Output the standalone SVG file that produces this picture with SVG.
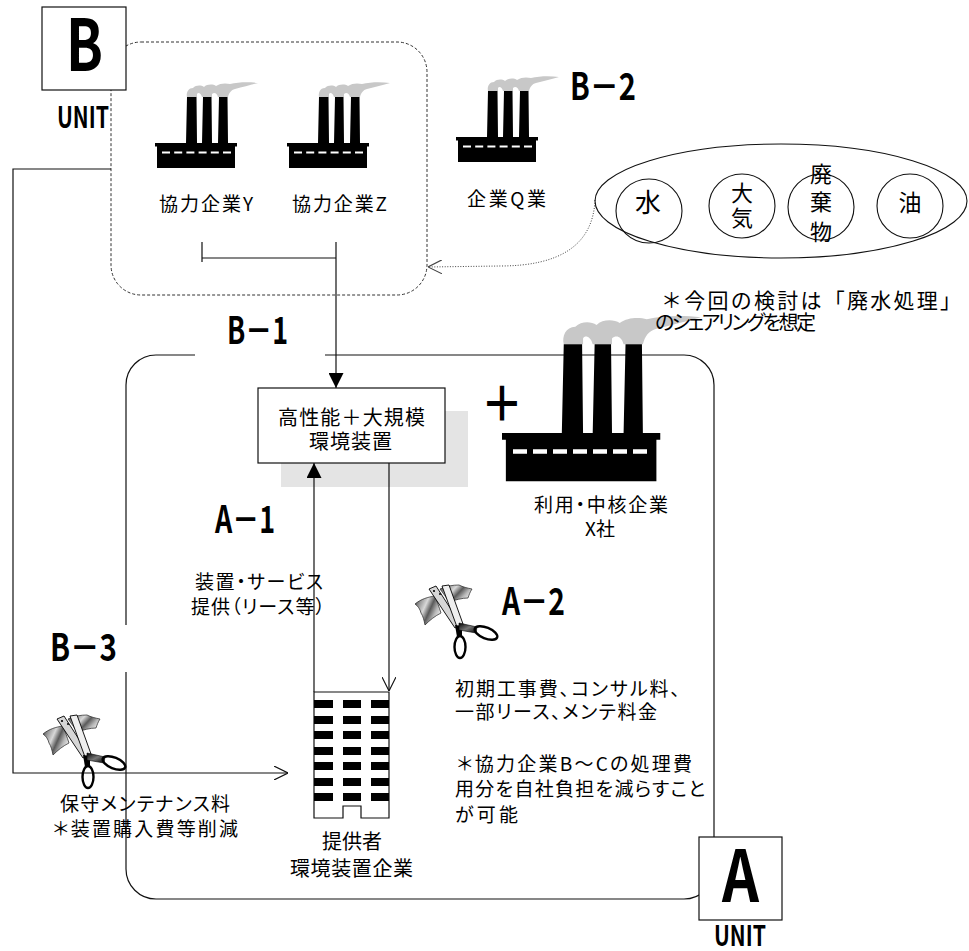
<svg xmlns="http://www.w3.org/2000/svg" width="969" height="951" viewBox="0 0 969 951">
  <style>
    .t { font-family: "Noto Sans CJK JP", "Noto Sans CJK SC", sans-serif; font-size: 19px; fill: #000; font-feature-settings: "palt"; }
    .big { font-family: "Noto Sans CJK JP", "Noto Sans CJK SC", sans-serif; font-size: 22px; fill: #000; text-anchor: middle; }
    .lbl { font-family: "Noto Sans CJK JP", "Liberation Sans", sans-serif; font-weight: 700; font-size: 38px; fill: #000; }
    .ln { fill: none; stroke: #111; stroke-width: 1.2; }
    .dot { fill: none; stroke: #444; stroke-width: 1; stroke-dasharray: 1 1.6; }
    .frame { fill: none; stroke: #111; stroke-width: 1.2; }
    .ring { fill: none; stroke: #111; stroke-width: 1.1; }
  </style>
  <defs>
    <marker id="tri" viewBox="0 0 10 10" refX="10" refY="5" markerUnits="userSpaceOnUse" markerWidth="15" markerHeight="15" orient="auto">
      <path d="M0,0 L10,5 L0,10 Z" fill="#000"/>
    </marker>
    <marker id="vee" viewBox="0 0 10 10" refX="10" refY="5" markerUnits="userSpaceOnUse" markerWidth="14" markerHeight="14" orient="auto">
      <path d="M0,0 L10,5 L0,10" fill="none" stroke="#111" stroke-width="0.8"/>
    </marker>
    <marker id="veeDot" viewBox="0 0 10 10" refX="10" refY="5" markerUnits="userSpaceOnUse" markerWidth="14" markerHeight="14" orient="auto">
      <path d="M0,0 L10,5 L0,10" fill="none" stroke="#444" stroke-width="0.8"/>
    </marker>
    <linearGradient id="note" x1="0" y1="0" x2="1" y2="0.5">
      <stop offset="0" stop-color="#2e2e2e"/>
      <stop offset="0.25" stop-color="#9a9a9a"/>
      <stop offset="0.45" stop-color="#d8d8d8"/>
      <stop offset="0.65" stop-color="#5a5a5a"/>
      <stop offset="0.85" stop-color="#b8b8b8"/>
      <stop offset="1" stop-color="#e0e0e0"/>
    </linearGradient>
    <linearGradient id="shaft" x1="0" y1="0" x2="1" y2="1">
      <stop offset="0" stop-color="#000"/>
      <stop offset="0.5" stop-color="#777"/>
      <stop offset="1" stop-color="#000"/>
    </linearGradient>
    <!-- factory with three stacks, roof-left corner at the origin -->
    <g id="factory">
      <path d="M32,-46 C31,-50 33,-55 38,-55 C41,-58 46,-58 49,-56 C52,-59 58,-59 61,-57 C65,-60 71,-60 75,-59 C84,-61 94,-61 103,-60 C96,-58 88,-56 80,-54 C76,-53 74,-50 73,-46 L63,-46 C62,-50 59,-51 57,-49 L57,-46 L47,-46 C46,-50 43,-51 42,-49 L42,-46 Z" fill="#c8c8c8"/>
      <path d="M31,0 L32,-46 L41.5,-46 L42,0 Z M47,0 L48,-46 L56.5,-46 L57,0 Z M63,0 L64,-46 L72.5,-46 L73,0 Z" fill="#000"/>
      <rect x="0" y="0" width="82" height="3.5" fill="#000"/>
      <rect x="2" y="3" width="78" height="22" fill="#000"/>
    </g>
    <!-- scissors cutting a banknote -->
    <g id="scissors">
      <path d="M0,19 C6,14 13,12 20,11 C22,16 24,22 26,28 C20,31 15,35 10,40 C9,35 8,31 6,28 C5,24 3,21 0,19 Z" fill="url(#note)" stroke="#222" stroke-width="0.7"/>
      <path d="M25,4 C31,1 38,0 44,0 C48,2 52,3 57,4 C55,7 54,10 53,13 C47,13 40,15 34,17 C31,12 28,8 25,4 Z" fill="url(#note)" stroke="#222" stroke-width="0.7"/>
      <path d="M14,4 L21,1 L46,40 L40,43 Z" fill="#d6d6d6" stroke="#000" stroke-width="0.9"/>
      <path d="M27,1 L34,0 L48,39 L42,42 Z" fill="#efefef" stroke="#000" stroke-width="0.9"/>
      <circle cx="19" cy="6" r="1.1" fill="#000"/>
      <circle cx="25" cy="9" r="1" fill="#000"/>
      <path d="M40,40 L47,41 L47,52 L42,52 Z" fill="#000"/>
      <path d="M44,38 L62,42 L61,48 L44,45 Z" fill="url(#shaft)" stroke="#000" stroke-width="0.6"/>
      <ellipse cx="45" cy="62" rx="5.5" ry="11" fill="none" stroke="#000" stroke-width="2.4"/>
      <ellipse cx="71" cy="48" rx="12" ry="5.5" transform="rotate(22 71 48)" fill="none" stroke="#000" stroke-width="2.4"/>
    </g>
  </defs>

  <rect width="969" height="951" fill="#fff"/>

  <!-- UNIT A region -->
  <g id="unit-a-region">
    <rect class="frame" x="126" y="355" width="588" height="544" rx="30" ry="30"/>
  </g>

  <!-- UNIT B region (dashed) -->
  <g id="unit-b-region">
    <rect x="111" y="42" width="316" height="253" rx="30" ry="30" fill="none" stroke="#333" stroke-width="1" stroke-dasharray="3 2"/>
  </g>

  <!-- section labels -->
  <g id="label-b1">
    <rect x="195" y="308" width="130" height="54" fill="#fff"/>
    <text class="lbl" x="227" y="344" textLength="61" lengthAdjust="spacingAndGlyphs">B－1</text>
  </g>
  <g id="label-b2">
    <text class="lbl" x="570" y="100" textLength="66" lengthAdjust="spacingAndGlyphs">B－2</text>
  </g>
  <g id="label-b3">
    <rect x="40" y="625" width="90" height="47" fill="#fff"/>
    <text class="lbl" x="50" y="661" textLength="67" lengthAdjust="spacingAndGlyphs">B－3</text>
  </g>
  <g id="label-a1">
    <text class="lbl" x="215" y="533" textLength="60" lengthAdjust="spacingAndGlyphs">A－1</text>
  </g>
  <g id="label-a2">
    <text class="lbl" x="502" y="615" textLength="63" lengthAdjust="spacingAndGlyphs">A－2</text>
  </g>

  <!-- shadow behind the equipment box -->
  <rect x="281" y="411" width="187" height="76" fill="#e4e4e4"/>

  <!-- connectors -->
  <g id="connectors">
    <path class="ln" d="M202,242 V262 M202,258 H336"/>
    <path class="ln" d="M336,242 V388" marker-end="url(#tri)"/>
    <path class="ln" d="M314,692 V463" marker-end="url(#tri)"/>
    <path class="ln" d="M389,463 V691" marker-end="url(#vee)"/>
    <path class="ln" d="M111,169 H13 V773 H288" marker-end="url(#vee)"/>
    <path class="dot" d="M595,200 C593,245 560,266 500,266 L428,267" marker-end="url(#veeDot)"/>
  </g>

  <!-- equipment box -->
  <g id="equipment">
    <rect x="258" y="388" width="187" height="75" fill="#fff" stroke="#111" stroke-width="1.2"/>
    <text class="t" x="278" y="425" style="font-size:20px" textLength="147" lengthAdjust="spacing">高性能＋大規模</text>
    <text class="t" x="309" y="449" style="font-size:20px" textLength="83" lengthAdjust="spacing">環境装置</text>
  </g>

  <!-- partner factories -->
  <g id="factory-y">
    <use href="#factory" transform="translate(155,143)"/>
    <line x1="162" y1="152.5" x2="231" y2="152.5" stroke="#fff" stroke-width="2" stroke-dasharray="8 4.2"/>
    <text class="t" x="159" y="211" textLength="94" lengthAdjust="spacing">協力企業Y</text>
  </g>
  <g id="factory-z">
    <use href="#factory" transform="translate(287,143)"/>
    <line x1="294" y1="152.5" x2="363" y2="152.5" stroke="#fff" stroke-width="2" stroke-dasharray="8 4.2"/>
    <text class="t" x="292" y="211" textLength="95" lengthAdjust="spacing">協力企業Z</text>
  </g>
  <g id="factory-q">
    <use href="#factory" transform="translate(456,137)"/>
    <line x1="463" y1="146.5" x2="532" y2="146.5" stroke="#fff" stroke-width="2" stroke-dasharray="8 4.2"/>
    <text class="t" x="467" y="206" textLength="79" lengthAdjust="spacing">企業Q業</text>
  </g>

  <!-- core user company -->
  <g id="factory-x">
    <use href="#factory" transform="translate(502,433) scale(1.93)"/>
    <line x1="513" y1="451.5" x2="647" y2="451.5" stroke="#fff" stroke-width="4.5" stroke-dasharray="14 6"/>
    <text x="481" y="421" font-family="Noto Sans CJK JP, sans-serif" font-weight="700" font-size="48" textLength="42" lengthAdjust="spacingAndGlyphs">＋</text>
    <text class="t" x="534" y="512" textLength="134" lengthAdjust="spacing">利用・中核企業</text>
    <text class="t" x="600" y="536" text-anchor="middle">X社</text>
  </g>

  <!-- resource categories -->
  <g id="resources">
    <ellipse class="ring" cx="781" cy="201" rx="186" ry="57"/>
    <ellipse class="ring" cx="649" cy="211" rx="33" ry="32"/>
    <ellipse class="ring" cx="742" cy="206" rx="33" ry="32"/>
    <ellipse class="ring" cx="821" cy="207" rx="33" ry="33"/>
    <ellipse class="ring" cx="910" cy="206" rx="33" ry="32"/>
    <text class="big" x="648" y="212" style="font-size:26px">水</text>
    <text class="big" x="742" y="201">大</text>
    <text class="big" x="742" y="226">気</text>
    <text class="big" x="821" y="182">廃</text>
    <text class="big" x="821" y="210">棄</text>
    <text class="big" x="821" y="240">物</text>
    <text class="big" x="910" y="211" style="font-size:23px">油</text>
    <text class="t" x="661" y="308" style="font-size:21px; font-feature-settings: normal" textLength="300" lengthAdjust="spacing">＊今回の検討は「廃水処理」</text>
    <text class="t" x="655" y="330" style="font-size:20px" textLength="161" lengthAdjust="spacing">のシェアリングを想定</text>
  </g>

  <!-- provider building -->
  <g id="provider">
    <path d="M314,692 H389 V818 H361 V806 H343 V818 H314 Z" fill="#fff" stroke="#111" stroke-width="1.2"/>
    <g fill="#000">
      <rect x="314" y="700" width="19" height="8"/><rect x="343" y="700" width="18" height="8"/><rect x="371" y="700" width="18" height="8"/>
      <rect x="314" y="716" width="19" height="8"/><rect x="343" y="716" width="18" height="8"/><rect x="371" y="716" width="18" height="8"/>
      <rect x="314" y="731" width="19" height="8"/><rect x="343" y="731" width="18" height="8"/><rect x="371" y="731" width="18" height="8"/>
      <rect x="314" y="747" width="19" height="8"/><rect x="343" y="747" width="18" height="8"/><rect x="371" y="747" width="18" height="8"/>
      <rect x="314" y="762" width="19" height="8"/><rect x="343" y="762" width="18" height="8"/><rect x="371" y="762" width="18" height="8"/>
      <rect x="314" y="778" width="19" height="8"/><rect x="343" y="778" width="18" height="8"/><rect x="371" y="778" width="18" height="8"/>
      <rect x="314" y="793" width="19" height="8"/><rect x="343" y="793" width="18" height="8"/><rect x="371" y="793" width="18" height="8"/>
    </g>
    <text class="t" x="322" y="849" style="font-size:20px" textLength="60" lengthAdjust="spacing">提供者</text>
    <text class="t" x="290" y="876" style="font-size:20px" textLength="123" lengthAdjust="spacing">環境装置企業</text>
  </g>

  <!-- service flow note -->
  <g id="service-note">
    <text class="t" x="195" y="589" textLength="128" lengthAdjust="spacing">装置・サービス</text>
    <text class="t" x="191" y="614" textLength="134" lengthAdjust="spacing">提供（リース等）</text>
  </g>

  <!-- cost items -->
  <g id="cost-a2">
    <use href="#scissors" transform="translate(415,585)"/>
    <text class="t" x="455" y="696" textLength="225" lengthAdjust="spacing">初期工事費、コンサル料、</text>
    <text class="t" x="455" y="719" textLength="202" lengthAdjust="spacing">一部リース、メンテ料金</text>
    <text class="t" x="457" y="771" textLength="235" lengthAdjust="spacing">＊協力企業B～Cの処理費</text>
    <text class="t" x="455" y="796" textLength="250" lengthAdjust="spacing">用分を自社負担を減らすこと</text>
    <text class="t" x="455" y="822" textLength="63" lengthAdjust="spacing">が可能</text>
  </g>
  <g id="cost-b3">
    <use href="#scissors" transform="translate(43,715)"/>
    <text class="t" x="60" y="811" textLength="170" lengthAdjust="spacing">保守メンテナンス料</text>
    <text class="t" x="53" y="836" textLength="185" lengthAdjust="spacing">＊装置購入費等削減</text>
  </g>

  <!-- unit badges -->
  <g id="unit-b">
    <rect x="42" y="7" width="84" height="83" fill="#fff" stroke="#111" stroke-width="1.2"/>
    <text class="lbl" x="66" y="71" style="font-size:72px" textLength="37" lengthAdjust="spacingAndGlyphs">B</text>
    <text class="lbl" x="57" y="128" style="font-size:29px" textLength="52" lengthAdjust="spacingAndGlyphs">UNIT</text>
  </g>
  <g id="unit-a">
    <rect x="699" y="837" width="83" height="83" fill="#fff" stroke="#111" stroke-width="1.2"/>
    <text class="lbl" x="722" y="902" style="font-size:71px" textLength="37" lengthAdjust="spacingAndGlyphs">A</text>
    <text class="lbl" x="714" y="946" style="font-size:28px" textLength="52" lengthAdjust="spacingAndGlyphs">UNIT</text>
  </g>
</svg>
